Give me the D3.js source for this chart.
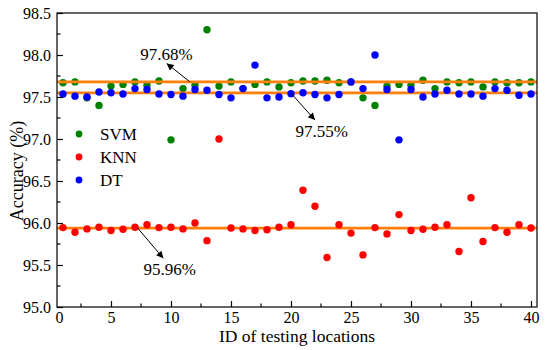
<!DOCTYPE html>
<html>
<head>
<meta charset="utf-8">
<script src="https://cdn.jsdelivr.net/npm/d3@7"></script>
<style>
  body { margin: 0; background: #fff; }
</style>
</head>
<body>
<div id="chart"></div>
<script>
// testing location ids 1..40
var ids = d3.range(1, 41);

// accuracy (%) per location
var svm = [97.67, 97.68, 97.49, 97.40, 97.63, 97.65, 97.68, 97.64, 97.69, 96.99,
           97.60, 97.64, 98.30, 97.63, 97.68, 97.60, 97.65, 97.68, 97.62, 97.67,
           97.69, 97.69, 97.70, 97.67, 97.68, 97.49, 97.40, 97.63, 97.65, 97.64,
           97.70, 97.60, 97.68, 97.67, 97.68, 97.62, 97.68, 97.67, 97.67, 97.68];
var knn = [95.945, 95.89, 95.93, 95.95, 95.91, 95.925, 95.95, 95.98, 95.945, 95.95,
           95.93, 96.00, 95.79, 97.00, 95.94, 95.93, 95.91, 95.92, 95.95, 95.98,
           96.39, 96.20, 95.59, 95.98, 95.88, 95.62, 95.945, 95.87, 96.10, 95.91,
           95.925, 95.95, 95.98, 95.66, 96.30, 95.78, 95.945, 95.89, 95.98, 95.94];
var dt  = [97.535, 97.51, 97.50, 97.56, 97.55, 97.535, 97.60, 97.59, 97.535, 97.53,
           97.51, 97.59, 97.58, 97.53, 97.49, 97.60, 97.88, 97.49, 97.50, 97.54,
           97.55, 97.53, 97.49, 97.53, 97.68, 97.60, 98.00, 97.59, 96.99, 97.59,
           97.50, 97.535, 97.58, 97.535, 97.535, 97.51, 97.60, 97.58, 97.52, 97.535];

var seriesNames = ["SVM", "KNN", "DT"];
var seriesColors = ["#008000", "#ff0000", "#0000ff"];

// average lines
var meanValues = [97.68, 97.55, 95.94];

// annotations: arrow from the line (x0,y0) to (x1,y1), label at (tx,ty)
var notes = [
  {text: "97.68%", x0: 11.58, y0: 97.68, x1: 9.64, y1: 97.90, tx: 9.62, ty: 97.94},
  {text: "97.55%", x0: 19.97, y0: 97.55, x1: 22.0, y1: 97.226, tx: 22.55, ty: 97.02},
  {text: "95.96%", x0: 7.22, y0: 95.94, x1: 9.36, y1: 95.58, tx: 9.89, ty: 95.38}
];

var xTicks = [0.5, 5, 10, 15, 20, 25, 30, 35, 40];
var xMinor = [2.5, 7.5, 12.5, 17.5, 22.5, 27.5, 32.5, 37.5];
var yTicks = [95.0, 95.5, 96.0, 96.5, 97.0, 97.5, 98.0, 98.5];

var FONT = "Liberation Serif, DejaVu Serif, serif";
var W = 550, H = 350;
var margin = {top: 13, right: 13, bottom: 43, left: 57};

var svg = d3.select("#chart").append("svg")
    .attr("width", W)
    .attr("height", H)
    .attr("font-family", FONT);

var x = d3.scaleLinear().domain([0.5, 40.5]).range([margin.left, W - margin.right]);
var y = d3.scaleLinear().domain([95, 98.5]).range([H - margin.bottom, margin.top]);

// arrow marker
svg.append("defs").append("marker")
    .attr("id", "arrow")
    .attr("viewBox", "0 0 10 10")
    .attr("refX", 10).attr("refY", 5)
    .attr("markerWidth", 9).attr("markerHeight", 7)
    .attr("markerUnits", "userSpaceOnUse")
    .attr("orient", "auto")
    .append("path")
    .attr("d", "M0,0 L10,5 L0,10 z")
    .attr("fill", "#000");

var plot = svg.append("g");

function dots(vals, color) {
  plot.append("g").selectAll("circle")
    .data(vals)
    .enter().append("circle")
    .attr("cx", (d, i) => x(ids[i]))
    .attr("cy", d => y(d))
    .attr("r", 3.7)
    .attr("fill", color);
}

dots(svm, seriesColors[0]);

// orange mean lines
plot.append("g").selectAll("line")
  .data(meanValues)
  .enter().append("line")
  .attr("x1", x(0.5)).attr("x2", x(40.5))
  .attr("y1", d => y(d)).attr("y2", d => y(d))
  .attr("stroke", "#ff7f0a")
  .attr("stroke-width", 2.8);

dots(knn, seriesColors[1]);
dots(dt, seriesColors[2]);

// frame
svg.append("rect")
  .attr("x", x(0.5)).attr("y", y(98.5))
  .attr("width", x(40.5) - x(0.5))
  .attr("height", y(95) - y(98.5))
  .attr("fill", "none")
  .attr("stroke", "#000")
  .attr("stroke-width", 1.2);

// x axis (ticks inward)
var xAxis = d3.axisBottom(x)
  .tickValues(xTicks)
  .tickSize(-6)
  .tickPadding(5)
  .tickFormat(d => d < 1 ? "0" : d);
var gx = svg.append("g")
  .attr("transform", "translate(0," + y(95) + ")")
  .call(xAxis)
  .attr("font-family", FONT)
  .attr("font-size", 16);
gx.select(".domain").remove();
gx.selectAll(".tick line").attr("stroke-width", 1.2)
  .filter(d => d < 1).remove();
gx.selectAll("text").attr("fill", "#000")
  .filter(d => d < 1).attr("dx", 2);

gx.selectAll(".minor").data(xMinor).enter().append("line")
  .attr("x1", d => x(d)).attr("x2", d => x(d))
  .attr("y1", 0).attr("y2", -3.5)
  .attr("stroke", "#000").attr("stroke-width", 1.2);

// y axis
var yAxis = d3.axisLeft(y)
  .tickValues(yTicks)
  .tickSize(-6)
  .tickPadding(6)
  .tickFormat(d3.format(".1f"));
var gy = svg.append("g")
  .attr("transform", "translate(" + x(0.5) + ",0)")
  .call(yAxis)
  .attr("font-family", FONT)
  .attr("font-size", 16);
gy.select(".domain").remove();
gy.selectAll(".tick line").attr("stroke-width", 1.2);
gy.selectAll("text").attr("fill", "#000");

gy.selectAll(".minor").data(d3.range(95.25, 98.5, 0.5)).enter().append("line")
  .attr("x1", 0).attr("x2", 3.5)
  .attr("y1", d => y(d)).attr("y2", d => y(d))
  .attr("stroke", "#000").attr("stroke-width", 1.2);

// axis titles
svg.append("text")
  .attr("x", (x(0.5) + x(40.5)) / 2)
  .attr("y", 342)
  .attr("text-anchor", "middle")
  .attr("font-size", 17.5)
  .text("ID of testing locations");

svg.append("text")
  .attr("transform", "translate(23,171) rotate(-90)")
  .attr("text-anchor", "middle")
  .attr("font-size", 18)
  .text("Accuracy (%)");

// annotations
var ann = svg.append("g");
notes.forEach(function(n) {
  ann.append("line")
    .attr("x1", x(n.x0)).attr("y1", y(n.y0))
    .attr("x2", x(n.x1)).attr("y2", y(n.y1))
    .attr("stroke", "#000").attr("stroke-width", 1)
    .attr("marker-end", "url(#arrow)");
  ann.append("text")
    .attr("x", x(n.tx)).attr("y", y(n.ty))
    .attr("text-anchor", "middle")
    .attr("font-size", 17)
    .text(n.text);
});

// legend
var legend = svg.append("g").attr("transform", "translate(79,134)");
seriesNames.forEach(function(name, i) {
  var row = legend.append("g").attr("transform", "translate(0," + (i * 23) + ")");
  row.append("circle").attr("r", 3.4).attr("fill", seriesColors[i]);
  row.append("text").attr("x", 21).attr("y", 6)
    .attr("font-size", 17)
    .text(name);
});
</script>
</body>
</html>
